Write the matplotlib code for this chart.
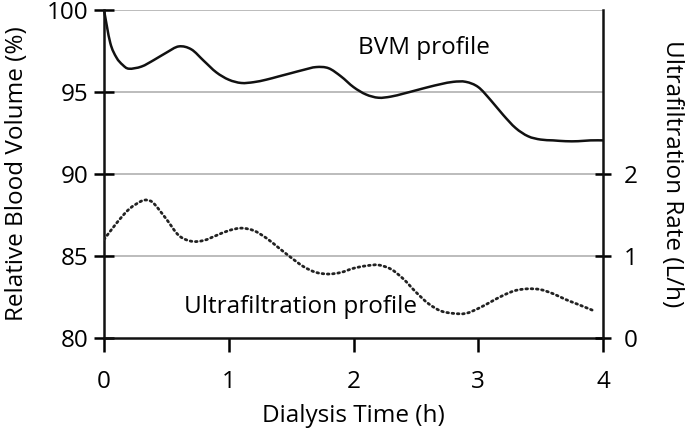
import matplotlib
matplotlib.use("Agg")
import matplotlib.pyplot as plt
from matplotlib.path import Path
from matplotlib.patches import PathPatch

plt.rcParams['font.family'] = ['Open Sans', 'DejaVu Sans']

# Blood volume (left axis, %)
bvm_t = [0, 0.05, 0.1, 0.15, 0.2, 0.3, 0.4, 0.5, 0.6, 0.7, 0.8, 0.9, 1.0, 1.1, 1.2,
         1.3, 1.4, 1.5, 1.6, 1.7, 1.8, 1.9, 2.0, 2.1, 2.2, 2.3, 2.4, 2.5, 2.6, 2.7, 2.8,
         2.9, 3.0, 3.1, 3.2, 3.3, 3.4, 3.5, 3.6, 3.7, 3.8, 3.9, 4.0]
bvm_v = [100, 98.0, 97.1, 96.65, 96.42, 96.55, 96.95, 97.4, 97.78, 97.6, 96.9, 96.2,
         95.75, 95.55, 95.6, 95.75, 95.95, 96.15, 96.35, 96.52, 96.45, 95.95, 95.3, 94.85,
         94.65, 94.72, 94.9, 95.1, 95.3, 95.48, 95.62, 95.62, 95.3, 94.5, 93.6, 92.8, 92.3,
         92.1, 92.05, 92.0, 92.0, 92.05, 92.05]

# Ultrafiltration rate (right axis, L/h)
uf_t = [0, 0.1, 0.2, 0.3, 0.35, 0.4, 0.5, 0.6, 0.7, 0.8, 0.9, 1.0, 1.1, 1.2, 1.3, 1.4,
        1.5, 1.6, 1.7, 1.8, 1.9, 2.0, 2.1, 2.2, 2.3, 2.4, 2.5, 2.6, 2.7, 2.8, 2.9, 3.0,
        3.1, 3.2, 3.3, 3.4, 3.5, 3.6, 3.7, 3.8, 3.93]
uf_v = [1.2, 1.4, 1.57, 1.67, 1.68, 1.64, 1.45, 1.25, 1.18, 1.19, 1.25, 1.31, 1.34, 1.31,
        1.22, 1.1, 0.98, 0.87, 0.8, 0.78, 0.8, 0.85, 0.88, 0.89, 0.84, 0.72, 0.56, 0.42,
        0.33, 0.30, 0.30, 0.36, 0.44, 0.52, 0.58, 0.6, 0.59, 0.54, 0.47, 0.41, 0.33]

x_ticks = [0, 1, 2, 3, 4]
left_ticks = [80, 85, 90, 95, 100]
right_ticks = [0, 1, 2]


def smooth_path(xs, ys):
    """Bezier path through the given points (Catmull-Rom control points)."""
    pts = list(zip(xs, ys))
    n = len(pts)
    verts = [pts[0]]
    codes = [Path.MOVETO]
    for i in range(n - 1):
        p0 = pts[i - 1] if i > 0 else pts[i]
        p1 = pts[i]
        p2 = pts[i + 1]
        p3 = pts[i + 2] if i + 2 < n else pts[i + 1]
        c1 = (p1[0] + (p2[0] - p0[0]) / 6, p1[1] + (p2[1] - p0[1]) / 6)
        c2 = (p2[0] - (p3[0] - p1[0]) / 6, p2[1] - (p3[1] - p1[1]) / 6)
        verts += [c1, c2, p2]
        codes += [Path.CURVE4] * 3
    return Path(verts, codes)


fig = plt.figure(figsize=(6.85, 4.32), dpi=100)
ax = fig.add_axes([104/685, 1 - 338/432, (603 - 104)/685, (338 - 10)/432])
ax2 = ax.twinx()

ax.set_xlim(0, 4)
ax.set_ylim(80, 100)
ax2.set_ylim(0, 4)

for y in [85, 90, 95, 100]:
    ax.axhline(y, color='#b0b0b0', lw=1.2, zorder=0)

p1 = PathPatch(smooth_path(bvm_t, bvm_v), fill=False, edgecolor='#111111', lw=1.8,
               zorder=3, clip_on=False)
ax.add_patch(p1)
p2 = PathPatch(smooth_path(uf_t, uf_v), fill=False, edgecolor='#222222', lw=2.0,
               linestyle=(0, (0.6, 1.3)), zorder=3, capstyle='round')
ax2.add_patch(p2)

ax.set_xticks(x_ticks)
ax.set_yticks(left_ticks)
ax2.set_yticks(right_ticks)

for a in (ax, ax2):
    a.spines['top'].set_visible(False)
    for s in a.spines.values():
        s.set_linewidth(1.8)
        s.set_color('#111111')
ax2.spines['left'].set_visible(False)
ax2.spines['bottom'].set_visible(False)
ax.spines['right'].set_visible(False)

FS = 17.5
ax.tick_params(axis='y', direction='inout', length=14, width=1.8, labelsize=FS, pad=4)
ax.tick_params(axis='x', direction='out', length=10, width=1.8, labelsize=FS, pad=13)
ax2.tick_params(axis='y', direction='inout', length=12, width=1.8, labelsize=FS, pad=9)

ax.set_xlabel('Dialysis Time (h)', fontsize=FS, labelpad=7)
ax.set_ylabel('Relative Blood Volume (%)', fontsize=FS, labelpad=13)
ax2.set_ylabel('Ultrafiltration Rate (L/h)', fontsize=FS, rotation=270, labelpad=33)

ax.text(2.04, 97.7, 'BVM profile', fontsize=FS, ha='left', va='center')
ax.text(0.64, 81.9, 'Ultrafiltration profile', fontsize=FS, ha='left', va='center')

fig.savefig('out.png', dpi=100)
